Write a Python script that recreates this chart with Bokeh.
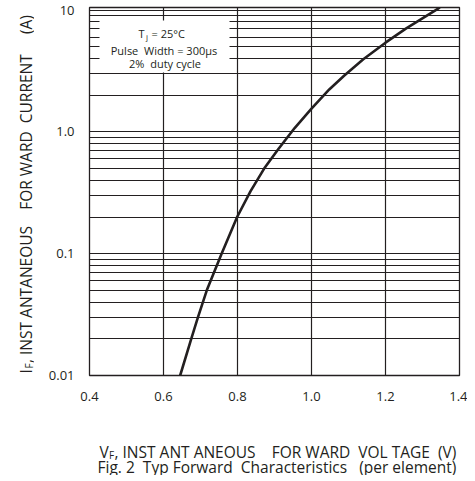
import math
from bokeh.plotting import figure
from bokeh.layouts import gridplot
from bokeh.models import FixedTicker, Label, BoxAnnotation, Range1d
from bokeh.core.properties import value
from bokeh.embed import file_html
from bokeh.resources import INLINE

# ---- data ----
vf = [0.645, 0.675, 0.693, 0.717, 0.757, 0.799, 0.835, 0.872, 0.910, 0.955,
      1.000, 1.048, 1.088, 1.140, 1.200, 1.255, 1.338, 1.347]
i_f = [0.01, 0.02, 0.03, 0.05, 0.1, 0.2, 0.325, 0.5, 0.72, 1.08,
       1.55, 2.23, 2.89, 3.95, 5.4, 7.04, 10.1, 10.5]
x_ticks = [0.4, 0.6, 0.8, 1.0, 1.2, 1.4]
x_labels = ["0.4", "0.6", "0.8", "1.0", "1.2", "1.4"]
y_ticks = [0.01, 0.1, 1.0, 10.0]
y_labels = ["0.01", "0.1", "1.0", "10"]
minor_mult = [2, 3, 4, 5, 6, 7, 8, 9]

FONT = "Open Sans"
INK = "#231f20"
NB = "\u00a0"

# overall page geometry (pixels)
TOTAL_W, TOTAL_H = 467, 475
LEFT_W = 34          # strip holding the vertical title
MAIN_H = 415         # main plot height
BOT_H = TOTAL_H - MAIN_H
MAIN_W = TOTAL_W - LEFT_W

FRAME_L, FRAME_R, FRAME_T, FRAME_B = 89, 459, 7, 375   # in page pixels
BL = FRAME_L - LEFT_W
BR = TOTAL_W - FRAME_R
BT = FRAME_T
BB = MAIN_H - FRAME_B
X0, X1 = 0.4, 1.4
Y0, Y1 = 0.01, 10.5

p = figure(width=MAIN_W, height=MAIN_H, x_range=Range1d(X0, X1),
           y_range=Range1d(Y0, Y1), y_axis_type="log", output_backend="svg",
           toolbar_location=None, min_border_left=BL, min_border_right=BR,
           min_border_top=BT, min_border_bottom=BB,
           background_fill_color="white", border_fill_color="white")


def xd(sx):
    """page pixel x -> data x"""
    return X0 + (sx - FRAME_L) / (FRAME_R - FRAME_L) * (X1 - X0)


def yd(sy):
    """page pixel y -> data y (log)"""
    frac = (FRAME_B - sy) / (FRAME_B - FRAME_T)
    return 10 ** (math.log10(Y0) + frac * (math.log10(Y1) - math.log10(Y0)))


def gap(n):
    """n visible spaces that survive whitespace collapsing"""
    return NB * (n - 1) + " "


# axes
p.xaxis.ticker = FixedTicker(ticks=x_ticks)
p.xaxis.major_label_overrides = {t: s for t, s in zip(x_ticks, x_labels)}
minor = [m * d for d in y_ticks for m in minor_mult if m * d < Y1]
p.yaxis.ticker = FixedTicker(ticks=y_ticks, minor_ticks=minor)
p.yaxis.major_label_overrides = {t: s for t, s in zip(y_ticks, y_labels)}
for ax in p.axis:
    ax.axis_line_color = None
    ax.major_tick_line_color = None
    ax.minor_tick_line_color = None
    ax.major_label_text_font = FONT
    ax.major_label_text_font_size = "13px"
    ax.major_label_text_color = INK
p.xaxis.major_label_standoff = 10
p.yaxis.major_label_standoff = 9

p.xgrid.grid_line_color = INK
p.xgrid.grid_line_width = 1.2
p.ygrid.grid_line_color = INK
p.ygrid.grid_line_width = 1.2
p.ygrid.minor_grid_line_color = INK
p.ygrid.minor_grid_line_width = 1.2
p.outline_line_color = INK
p.outline_line_width = 1.3

p.line(vf, i_f, line_width=2.6, line_color=INK)

# annotation box with the test conditions
p.add_layout(BoxAnnotation(left=xd(99), right=xd(229), top=yd(20), bottom=yd(72),
                           fill_color="white", fill_alpha=1.0, line_color=None))


def dlab(text, sx, sy, size, align="left"):
    p.add_layout(Label(x=xd(sx), y=yd(sy), text=text, text_font=FONT,
                       text_font_size=size, text_color=INK, text_align=align,
                       text_baseline="alphabetic"))


dlab("T", 138, 33, "11px")
dlab("j", 145.5, 35.5, "8px")
dlab("= 25°C", 151, 33, "11px")
dlab("Pulse" + gap(2) + "Width = 300μs", 163.5, 49.5, "11px", align="center")
dlab("2%" + gap(2) + "duty cycle", 164.5, 63, "11px", align="center")


def strip(w, h, xr, yr, bl, br, bt, bb):
    f = figure(width=w, height=h, x_range=Range1d(*xr), y_range=Range1d(*yr),
               output_backend="svg", toolbar_location=None,
               x_axis_location=None, y_axis_location=None,
               min_border_left=bl, min_border_right=br,
               min_border_top=bt, min_border_bottom=bb,
               background_fill_color="white", border_fill_color="white",
               outline_line_color=None)
    f.xgrid.visible = False
    f.ygrid.visible = False
    return f


# left strip (vertical title); data coords = page pixels, y negated
left = strip(LEFT_W, MAIN_H, (0, LEFT_W), (-FRAME_B, -FRAME_T), 0, 0, BT, BB)
# bottom strip (horizontal title + caption); data coords = page pixels, y negated
bottom = strip(MAIN_W, BOT_H, (FRAME_L, FRAME_R), (-TOTAL_H, -MAIN_H), BL, BR, 0, 0)


def stext(f, text, sx, sy, size, angle=0.0):
    f.text(x=[sx], y=[-sy], text=[text], text_font=value(FONT),
           text_font_size=value(size), text_color=INK, text_align="left",
           text_baseline="alphabetic", angle=angle)


R = math.pi / 2
stext(left, "I", 25, 373, "15.5px", R)
stext(left, "F", 28.5, 368, "10px", R)
stext(left, ", INST ANTANEOUS" + gap(4) + "FOR WARD" + gap(2) + "CURRENT" + gap(5) + "(A)",
      25, 362.5, "15.5px", R)

stext(bottom, "V", 99, 451, "15.5px")
stext(bottom, "F", 108.5, 454.5, "10px")
stext(bottom, ", INST ANT ANEOUS" + gap(4) + "FOR WARD" + gap(2) + "VOL TAGE" + gap(2) + "(V)",
      114, 451, "15.5px")
stext(bottom, "Fig. 2" + gap(2) + "Typ Forward" + gap(2) + "Characteristics" + gap(3) + "(per element)",
      97, 466, "15.5px")

layout = gridplot([[left, p], [None, bottom]], toolbar_location=None)

open("out.html", "w").write(file_html(layout, INLINE))
